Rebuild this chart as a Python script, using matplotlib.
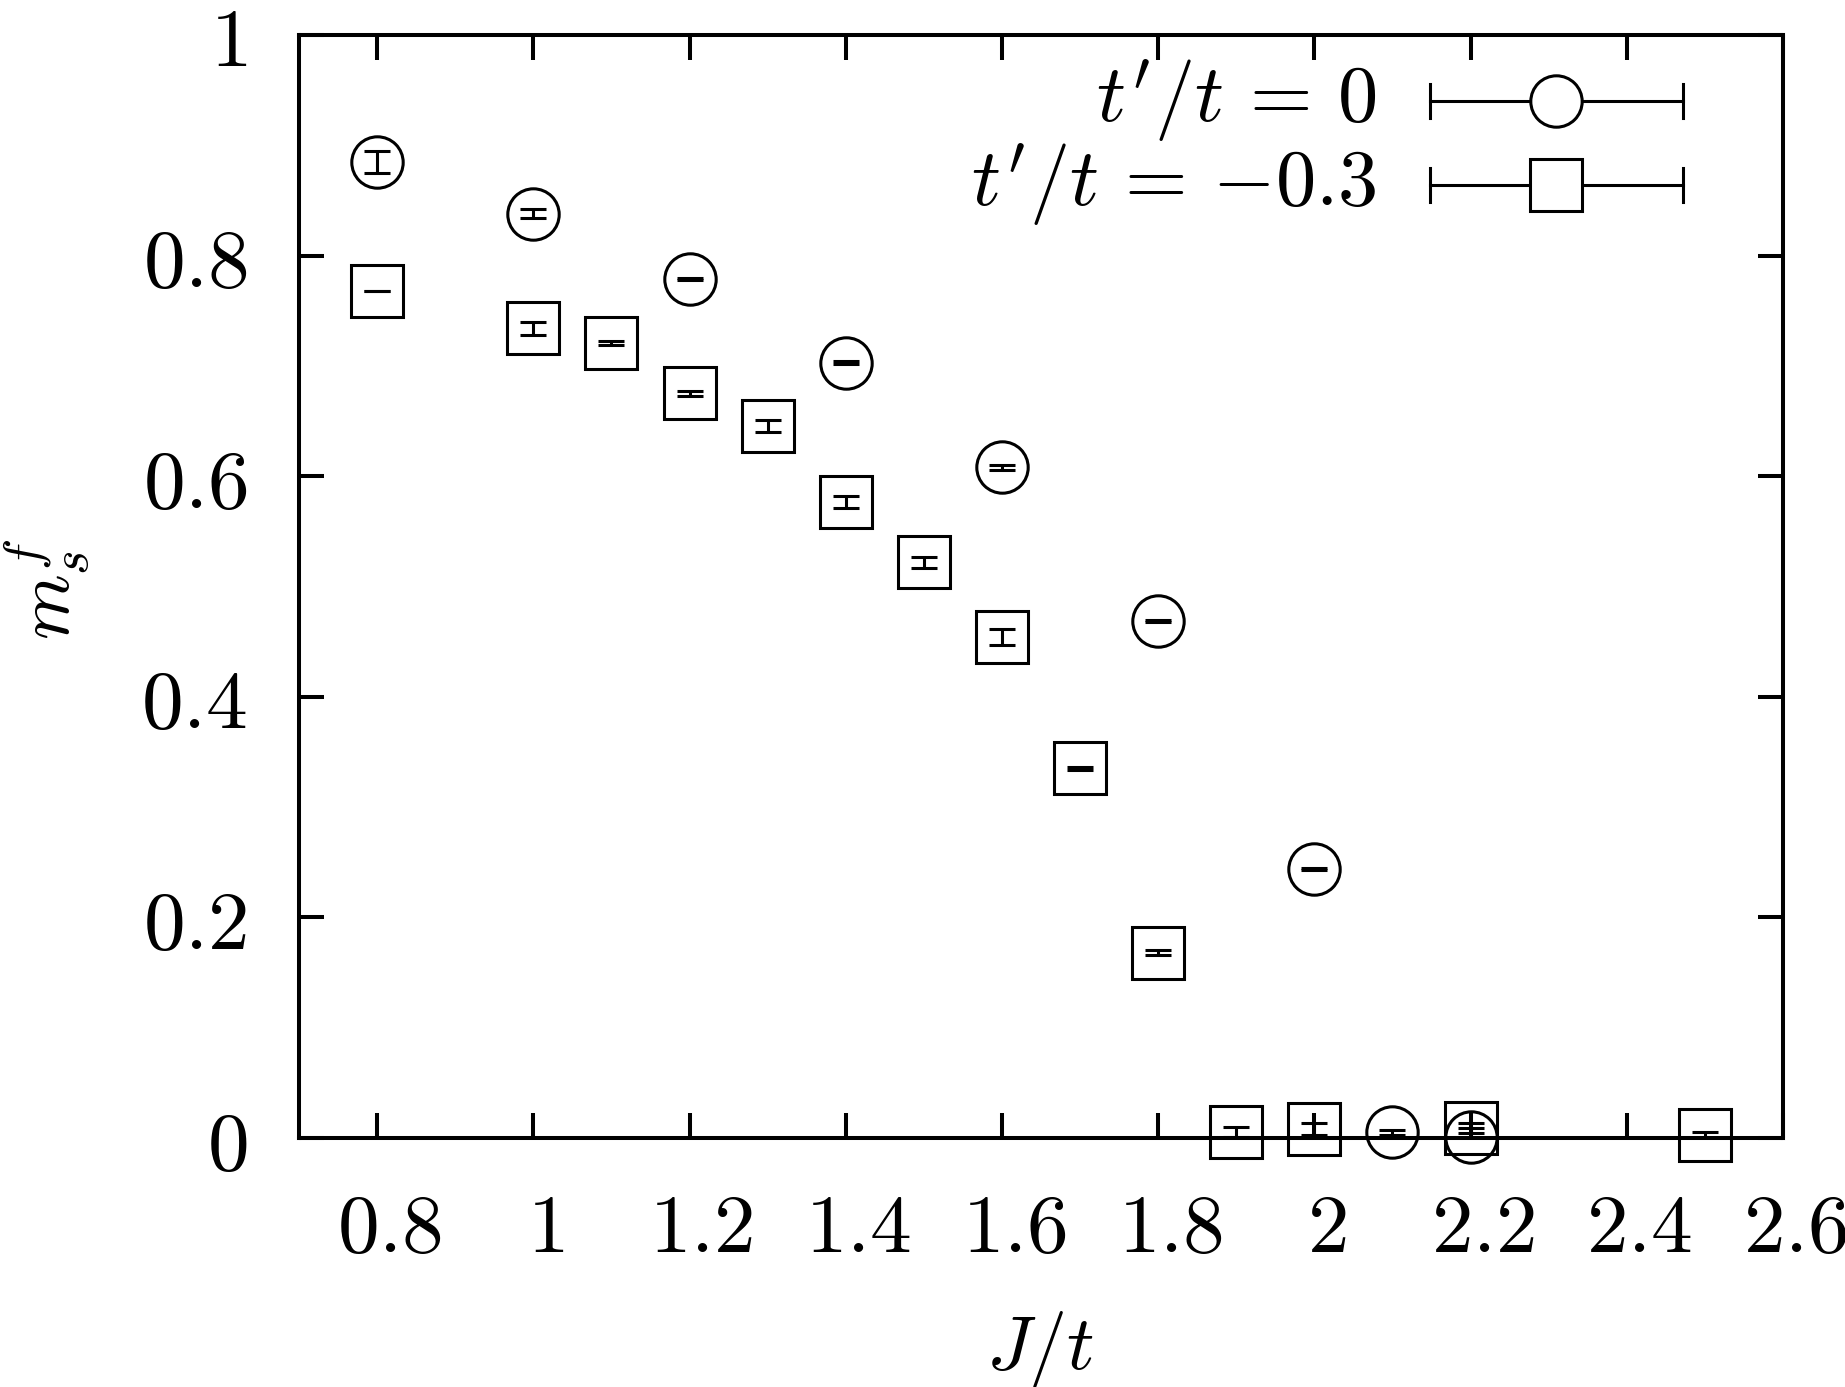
import matplotlib
matplotlib.use('Agg')
import matplotlib.pyplot as plt
from matplotlib.transforms import ScaledTranslation

plt.rcParams['mathtext.fontset'] = 'cm'
plt.rcParams['font.family'] = ['DejaVu Serif']

# t'/t = 0 (circles)
jt_circ = [0.8, 1.0, 1.2, 1.4, 1.6, 1.8, 2.0, 2.1, 2.2]
ms_circ = [0.885, 0.838, 0.779, 0.703, 0.608, 0.469, 0.244, 0.005, 0.001]
err_circ = [0.0098, 0.0042, 0.001, 0.001, 0.0026, 0.001, 0.001, 0.0022, 0.008]

# t'/t = -0.3 (squares)
jt_sq = [0.8, 1.0, 1.1, 1.2, 1.3, 1.4, 1.5, 1.6, 1.7, 1.8, 1.9, 2.0, 2.2, 2.5]
ms_sq = [0.768, 0.734, 0.721, 0.675, 0.6455, 0.577, 0.522, 0.454, 0.335, 0.168,
         0.0057, 0.0085, 0.0092, 0.0023]
err_sq = [0.0003, 0.006, 0.002, 0.0022, 0.005, 0.0054, 0.005, 0.0073, 0.001, 0.0022,
          0.0045, 0.0055, 0.0045, 0.0034]

xticks = [0.8, 1.0, 1.2, 1.4, 1.6, 1.8, 2.0, 2.2, 2.4, 2.6]
xticklabels = ['0.8', '1', '1.2', '1.4', '1.6', '1.8', '2', '2.2', '2.4', '2.6']
yticks = [0.0, 0.2, 0.4, 0.6, 0.8, 1.0]
yticklabels = ['0', '0.2', '0.4', '0.6', '0.8', '1']

legend_labels = [r"$t'/t\,=\,0$", r"$t'/t\,=\,{-}0.3$"]

fig = plt.figure(figsize=(18.45, 13.87), dpi=100)
ax = fig.add_axes([299/1845, 1 - 1138/1387, (1783-299)/1845, (1138-35)/1387])

ms = 37
mew = 2.2
elw = 2.2
cap = 9.4

for x, y, e, mk in [(jt_circ, ms_circ, err_circ, 'o'), (jt_sq, ms_sq, err_sq, 's')]:
    ax.errorbar(x, y, yerr=e, fmt='none', ecolor='black', elinewidth=elw,
                capsize=cap, capthick=elw, zorder=2)
    ax.plot(x, y, linestyle='none', marker=mk, markersize=ms, markerfacecolor='none',
            markeredgecolor='black', markeredgewidth=mew, clip_on=False, zorder=3)

ax.set_xlim(0.7, 2.6)
ax.set_ylim(0, 1)
ax.set_xticks(xticks)
ax.set_xticklabels(['$' + s + '$' for s in xticklabels])
ax.set_yticks(yticks)
ax.set_yticklabels(['$' + s + '$' for s in yticklabels])

for s in ax.spines.values():
    s.set_linewidth(2.9)

ax.tick_params(axis='both', direction='in', length=18, width=2.9, top=True, right=True,
               labelsize=60)
ax.tick_params(axis='x', pad=37)
ax.tick_params(axis='y', pad=37)

off = ScaledTranslation(12/100, 0, fig.dpi_scale_trans)
for lab in ax.get_xticklabels():
    lab.set_transform(lab.get_transform() + off)

# axis labels
fig.text(1040/1845, 1 - 1350/1387, r'$J/t$', fontsize=55, ha='center', va='center')
fig.text(48/1845, 1 - 589/1387, r'$m_s^f$', fontsize=54, ha='center', va='center',
         rotation=90)

# legend (gnuplot style)
rows_y = [0.940, 0.864]
markers = ['o', 's']
x0, x1, xm = 0.762, 0.9326, 0.847
caph = 17 / 1103
for lab, yy, mk in zip(legend_labels, rows_y, markers):
    ax.text(0.7264, yy, lab, transform=ax.transAxes, fontsize=58, ha='right', va='center')
    ax.plot([x0, x1], [yy, yy], transform=ax.transAxes, color='black', lw=elw,
            clip_on=False)
    for xc in (x0, x1):
        ax.plot([xc, xc], [yy - caph, yy + caph], transform=ax.transAxes, color='black',
                lw=elw, clip_on=False)
    ax.plot([xm], [yy], transform=ax.transAxes, marker=mk, markersize=ms,
            markerfacecolor='white', markeredgecolor='black', markeredgewidth=mew,
            linestyle='none', clip_on=False)

fig.savefig('out.png', dpi=100)
